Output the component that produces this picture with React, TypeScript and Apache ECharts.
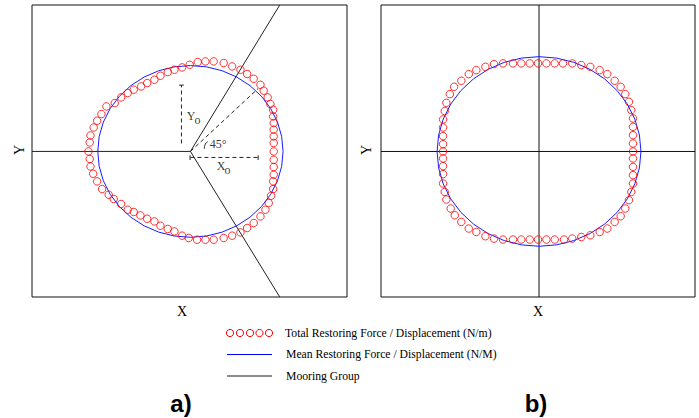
import React, { useEffect, useRef } from "react";
import * as echarts from "echarts";

// Panel a) – total restoring force / displacement (red circles), [x, y]
const totalForceA: number[][] = [
  [0.899, 0], [0.899, 0.098], [0.899, 0.175], [0.899, 0.253], [0.899, 0.331],
  [0.893, 0.407], [0.893, 0.485], [0.863, 0.552], [0.834, 0.629], [0.791, 0.707],
  [0.756, 0.776], [0.683, 0.846], [0.612, 0.901], [0.54, 0.951], [0.45, 0.99],
  [0.359, 1.029], [0.251, 1.048], [0.162, 1.048], [0.079, 1.041], [-0.008, 1.009],
  [-0.09, 0.978], [-0.173, 0.951], [-0.245, 0.924], [-0.324, 0.881], [-0.389, 0.835],
  [-0.467, 0.796], [-0.532, 0.757], [-0.612, 0.719], [-0.677, 0.68], [-0.748, 0.629],
  [-0.817, 0.563], [-0.907, 0.524], [-0.961, 0.435], [-1.007, 0.357], [-1.044, 0.279],
  [-1.079, 0.186], [-1.087, 0.105], [-1.101, 0],
  [-1.087, -0.088], [-1.079, -0.175], [-1.05, -0.26], [-1.007, -0.349], [-0.953, -0.438],
  [-0.882, -0.504], [-0.828, -0.554], [-0.748, -0.612], [-0.677, -0.679], [-0.612, -0.705],
  [-0.54, -0.745], [-0.467, -0.784], [-0.389, -0.815], [-0.324, -0.865], [-0.245, -0.903],
  [-0.173, -0.931], [-0.09, -0.981], [-0.018, -1.008], [0.072, -1.028], [0.162, -1.028],
  [0.251, -1.028], [0.359, -1.008], [0.45, -0.981], [0.54, -0.943], [0.612, -0.892],
  [0.683, -0.834], [0.756, -0.757], [0.81, -0.679], [0.845, -0.601], [0.871, -0.516],
  [0.893, -0.438], [0.893, -0.349], [0.899, -0.271], [0.899, -0.182], [0.899, -0.097],
];

// Panel b) – total restoring force / displacement (red circles), [x, y]
const totalForceB: number[][] = [
  [0.922, 0], [0.922, 0.084], [0.922, 0.172], [0.922, 0.26], [0.922, 0.348],
  [0.905, 0.436], [0.882, 0.524], [0.846, 0.605], [0.801, 0.682], [0.742, 0.746],
  [0.67, 0.816], [0.595, 0.858], [0.503, 0.893], [0.415, 0.911], [0.326, 0.929],
  [0.235, 0.929], [0.154, 0.929], [0.072, 0.929], [-0.01, 0.929], [-0.091, 0.929],
  [-0.174, 0.929], [-0.255, 0.929], [-0.353, 0.929], [-0.441, 0.922], [-0.526, 0.893],
  [-0.615, 0.858], [-0.689, 0.816], [-0.762, 0.746], [-0.833, 0.682], [-0.875, 0.605],
  [-0.909, 0.513], [-0.925, 0.426], [-0.941, 0.338], [-0.941, 0.253], [-0.941, 0.162],
  [-0.941, 0.077], [-0.941, 0],
  [-0.941, -0.074], [-0.941, -0.155], [-0.941, -0.239], [-0.941, -0.338], [-0.925, -0.427],
  [-0.909, -0.507], [-0.866, -0.602], [-0.826, -0.673], [-0.762, -0.743], [-0.689, -0.813],
  [-0.615, -0.849], [-0.526, -0.894], [-0.441, -0.919], [-0.353, -0.929], [-0.255, -0.929],
  [-0.174, -0.929], [-0.091, -0.929], [-0.01, -0.929], [0.072, -0.929], [0.154, -0.929],
  [0.245, -0.929], [0.326, -0.919], [0.415, -0.902], [0.503, -0.884], [0.595, -0.849],
  [0.67, -0.813], [0.742, -0.743], [0.801, -0.683], [0.846, -0.602], [0.882, -0.514],
  [0.905, -0.427], [0.922, -0.338], [0.922, -0.25], [0.922, -0.163], [0.922, -0.074],
];

// Mean restoring force / displacement: constant radius (blue circle)
const meanRadiusA = 1.0;
const meanRadiusB = 1.0;
const circleAnglesDeg = [
  0, 10, 20, 30, 40, 50, 60, 70, 80, 90, 100, 110, 120, 130, 140, 150, 160, 170,
  180, 190, 200, 210, 220, 230, 240, 250, 260, 270, 280, 290, 300, 310, 320, 330, 340, 350, 360,
];

// Mooring groups (line segments, [x, y] end points)
const mooringA: number[][][] = [
  [[0, 0], [0.964, 1.705]],
  [[0, 0], [-1.71, 0]],
  [[0, 0], [0.964, -1.695]],
];
const mooringB: number[][][] = [
  [[-1.55, 0], [1.53, 0]],
  [[0, -1.535], [0, 1.545]],
];

// Annotation of panel a)
const dashedA: number[][][] = [
  [[-0.097, 0.093], [-0.097, 0.772]],
  [[0, -0.07], [0.731, -0.07]],
  [[0, 0], [0.731, 0.733]],
];
const capsA: number[][][] = [
  [[-0.122, 0.772], [-0.072, 0.772]],
  [[0.731, -0.045], [0.731, -0.1]],
  [[-0.004, -0.045], [-0.004, -0.1]],
];
const angleArcA: number[][] = [[0.15, 0.03], [0.155, 0.068], [0.168, 0.098], [0.186, 0.112]];
const annotTextsA: { name: string; value: number[]; size: number }[] = [
  { name: "Y", value: [0.008, 0.414], size: 12 },
  { name: "o", value: [0.075, 0.362], size: 12 },
  { name: "X", value: [0.331, -0.172], size: 12 },
  { name: "o", value: [0.4, -0.222], size: 12 },
  { name: "45°", value: [0.299, 0.084], size: 12 },
];

const legendLabels = [
  "Total Restoring Force / Displacement (N/m)",
  "Mean Restoring Force / Displacement (N/M)",
  "Mooring Group",
];

const SERIF = '"Liberation Serif", "Times New Roman", serif';

function circlePoints(r: number) {
  return circleAnglesDeg.map((a) => [
    r * Math.cos((a * Math.PI) / 180),
    r * Math.sin((a * Math.PI) / 180),
  ]);
}

function lineSeries(data: number[][], idx: number, color: string, type: any = "solid", z = 2) {
  return {
    type: "line",
    xAxisIndex: idx,
    yAxisIndex: idx,
    data,
    symbol: "none",
    showSymbol: false,
    silent: true,
    z,
    lineStyle: { color, width: 1, type },
  };
}

export default function App() {
  const ref = useRef<HTMLDivElement>(null);
  useEffect(() => {
    if (!ref.current) return;
    const chart = echarts.init(ref.current, undefined, { renderer: "svg" });
    const hiddenAxis = (min: number, max: number) => ({
      type: "value",
      min,
      max,
      axisLine: { show: false },
      axisTick: { show: false },
      axisLabel: { show: false },
      splitLine: { show: false },
    });
    const series: any[] = [];
    mooringA.forEach((s) => series.push(lineSeries(s, 0, "#222")));
    mooringB.forEach((s) => series.push(lineSeries(s, 1, "#111")));
    dashedA.forEach((s) => series.push(lineSeries(s, 0, "#222", [4, 3])));
    capsA.forEach((s) => series.push(lineSeries(s, 0, "#222")));
    series.push({ ...lineSeries(angleArcA, 0, "#222"), smooth: true });
    series.push(lineSeries(circlePoints(meanRadiusA), 0, "#1a1aff", "solid", 3));
    series.push(lineSeries(circlePoints(meanRadiusB), 1, "#1a1aff", "solid", 3));
    [totalForceA, totalForceB].forEach((d, i) =>
      series.push({
        type: "scatter",
        xAxisIndex: i,
        yAxisIndex: i,
        data: d,
        symbol: "circle",
        symbolSize: 7.5,
        silent: true,
        z: 4,
        itemStyle: { color: "rgba(255,255,255,0)", borderColor: "#ff0000", borderWidth: 1 },
      })
    );
    series.push({
      type: "scatter",
      xAxisIndex: 0,
      yAxisIndex: 0,
      symbolSize: 0,
      silent: true,
      z: 5,
      itemStyle: { color: "rgba(0,0,0,0)" },
      data: annotTextsA.map((t) => ({
        name: t.name,
        value: t.value,
        label: { fontSize: t.size },
      })),
      label: {
        show: true,
        position: "inside",
        formatter: (p: any) => p.name,
        color: "#000",
        fontFamily: SERIF,
      },
    });

    const legendTop = 333;
    const rowGap = 21.5;
    const legendCircles = [230, 240, 250, 259.5, 269];
    const graphic: any[] = [];
    legendCircles.forEach((cx) =>
      graphic.push({
        type: "circle",
        shape: { cx, cy: legendTop, r: 3.6 },
        style: { fill: "none", stroke: "#ff0000", lineWidth: 1 },
      })
    );
    graphic.push({
      type: "line",
      shape: { x1: 227, y1: legendTop + rowGap, x2: 272, y2: legendTop + rowGap },
      style: { stroke: "#0000ff", lineWidth: 1 },
    });
    graphic.push({
      type: "line",
      shape: { x1: 227, y1: legendTop + 2 * rowGap, x2: 272, y2: legendTop + 2 * rowGap },
      style: { stroke: "#666", lineWidth: 1.3 },
    });
    legendLabels.forEach((t, i) =>
      graphic.push({
        type: "text",
        x: i === 0 ? 285 : 286,
        y: legendTop + i * rowGap,
        style: { text: t, fill: "#000", font: `11.7px ${SERIF}`, verticalAlign: "middle" },
      })
    );
    // axis names
    [
      { t: "X", x: 182, y: 311 },
      { t: "X", x: 538, y: 311 },
    ].forEach((o) =>
      graphic.push({
        type: "text",
        x: o.x,
        y: o.y,
        style: { text: o.t, fill: "#000", font: `14px ${SERIF}`, align: "center", verticalAlign: "middle" },
      })
    );
    [
      { x: 19, y: 150 },
      { x: 366.5, y: 150 },
    ].forEach((o) =>
      graphic.push({
        type: "text",
        x: o.x,
        y: o.y,
        rotation: Math.PI / 2,
        style: { text: "Y", fill: "#000", font: `14px ${SERIF}`, align: "center", verticalAlign: "middle" },
      })
    );
    [
      { t: "a)", x: 181 },
      { t: "b)", x: 536 },
    ].forEach((o) =>
      graphic.push({
        type: "text",
        x: o.x,
        y: 403,
        style: {
          text: o.t,
          fill: "#000",
          font: `bold 24px "Liberation Sans", Arial, sans-serif`,
          align: "center",
          verticalAlign: "middle",
        },
      })
    );

    chart.setOption({
      animation: false,
      backgroundColor: "#ffffff",
      grid: [
        { left: 32, top: 5, width: 315, height: 292, show: true, borderColor: "#111", borderWidth: 1, backgroundColor: "transparent" },
        { left: 381, top: 5, width: 314, height: 292, show: true, borderColor: "#111", borderWidth: 1, backgroundColor: "transparent" },
      ],
      xAxis: [
        { ...hiddenAxis(-1.71, 1.69), gridIndex: 0 },
        { ...hiddenAxis(-1.55, 1.53), gridIndex: 1 },
      ],
      yAxis: [
        { ...hiddenAxis(-1.695, 1.705), gridIndex: 0 },
        { ...hiddenAxis(-1.535, 1.545), gridIndex: 1 },
      ],
      series,
      graphic,
    });
    return () => chart.dispose();
  }, []);
  return (
    <div
      ref={ref}
      style={{ position: "fixed", left: 0, top: 0, width: 699, height: 418, background: "#fff" }}
    />
  );
}
